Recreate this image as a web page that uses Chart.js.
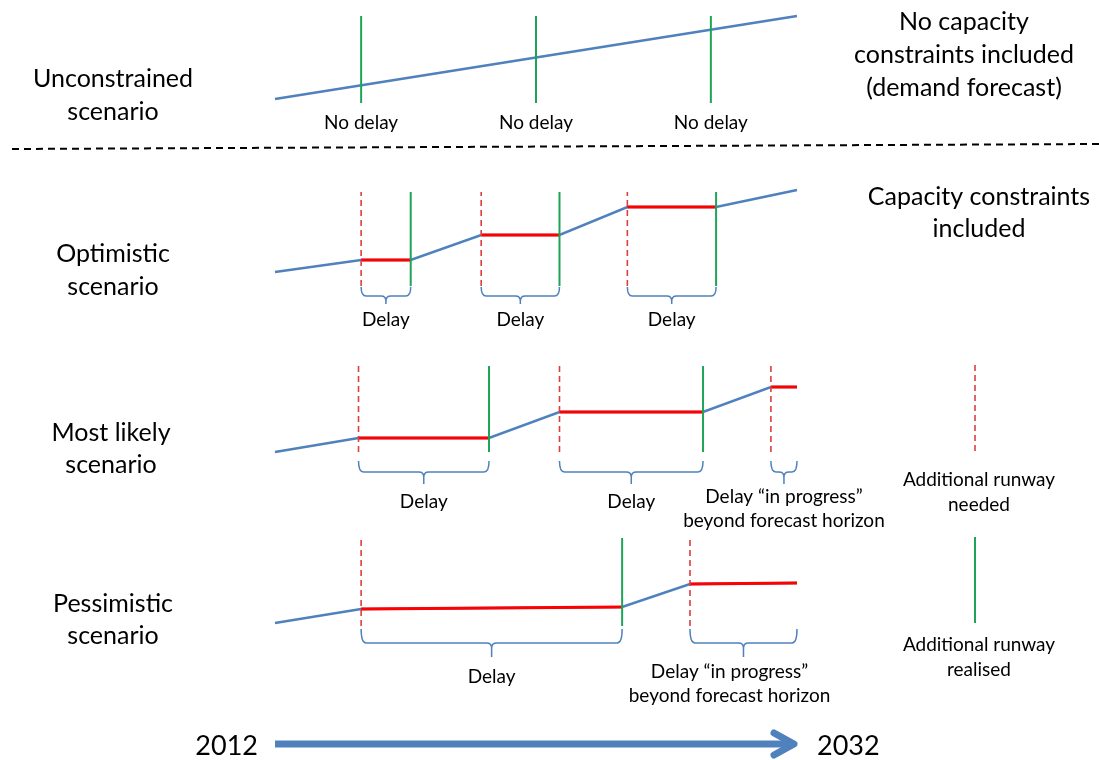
<!DOCTYPE html>
<html>
<head>
<meta charset="utf-8">
<title>Runway capacity scenarios</title>
<script src="https://cdn.jsdelivr.net/npm/chart.js@4.4.1/dist/chart.umd.min.js"></script>
<style>
    html, body { margin: 0; padding: 0; background: #fff; }
    #wrap { width: 1099px; height: 760px; }
</style>
</head>
<body>
<div id="wrap"><canvas id="diagram" width="1099" height="760"></canvas></div>
<script>
// Forecast horizon
const startYear = 2012;
const endYear = 2032;

// Unconstrained scenario: demand forecast, runways arrive exactly when needed
const uncYears = [2012, 2032];
const uncDemand = [100, 183];
const uncRealised = [2015.3, 2022.0, 2028.7];
const uncLabels = ['No delay', 'No delay', 'No delay'];

// Optimistic scenario
const optYears = [2012, 2015.3, 2017.2, 2019.9, 2022.9, 2025.5, 2028.9, 2032];
const optDemand = [100, 112, 112, 137, 137, 165, 165, 182];
const optNeeded = [2015.3, 2019.9, 2025.5];
const optRealised = [2017.2, 2022.9, 2028.9];
const optLabels = ['Delay', 'Delay', 'Delay'];

// Most likely scenario
const mostYears = [2012, 2015.2, 2020.2, 2022.9, 2028.4, 2031.0, 2032];
const mostDemand = [100, 114, 114, 140, 140, 165, 165];
const mostNeeded = [2015.2, 2022.9, 2031.0];
const mostRealised = [2020.2, 2028.4];
const mostLabels = ['Delay', 'Delay', 'Delay \u201cin progress\u201d\nbeyond forecast horizon'];

// Pessimistic scenario
const pesYears = [2012, 2015.3, 2025.3, 2027.9, 2032];
const pesDemand = [100, 114, 116, 139, 140];
const pesNeeded = [2015.3, 2027.9];
const pesRealised = [2025.3];
const pesLabels = ['Delay', 'Delay \u201cin progress\u201d\nbeyond forecast horizon'];

// ---- layout ----
const W = 1099, H = 760;
const AXIS_LEFT = 275, AXIS_RIGHT = 797;
const pxPerYear = (AXIS_RIGHT - AXIS_LEFT) / (endYear - startYear);
const FONT = 'Lato, "Open Sans", sans-serif';
const BLUE = '#4f81bd', RED = '#ff0000', RED_DASH = '#d9403f', GREEN = '#1fa457';

// base = pixel row of demand 100; mark = extent of the runway lines (demand units)
const panels = [
    { id: 'yUnc', base: 99, years: uncYears, demand: uncDemand, needed: [], realised: uncRealised,
      mark: [96, 183], labels: uncLabels, labelY: 123 },
    { id: 'yOpt', base: 272, years: optYears, demand: optDemand, needed: optNeeded, realised: optRealised,
      mark: [86, 180], labels: optLabels,
      brace: { top: 287, main: 296, tip: 304, label: 320, label2: 320, shift2: 0 } },
    { id: 'yMost', base: 452, years: mostYears, demand: mostDemand, needed: mostNeeded, realised: mostRealised,
      mark: [100, 186], labels: mostLabels,
      brace: { top: 461, main: 472, tip: 484, label: 502, label2: 497, shift2: 0 } },
    { id: 'yPes', base: 623, years: pesYears, demand: pesDemand, needed: pesNeeded, realised: pesRealised,
      mark: [97, 185], labels: pesLabels,
      brace: { top: 629, main: 643, tip: 657, label: 677, label2: 672, shift2: -14 } }
];

function pathPoints(years, demand) {
    return years.map((yr, i) => ({ x: yr, y: demand[i] }));
}

// flat (capacity constrained) stretches between "needed" and "realised"
function constrainedPoints(years, demand, needed, realised) {
    const out = [];
    needed.forEach((s, i) => {
        const e = realised[i] !== undefined ? realised[i] : endYear;
        years.forEach((yr, j) => {
            if (yr >= s - 1e-6 && yr <= e + 1e-6) out.push({ x: yr, y: demand[j] });
        });
        out.push({ x: e, y: null });
    });
    return out;
}

function markPoints(list, range) {
    const out = [];
    list.forEach(yr => {
        out.push({ x: yr, y: range[0] }, { x: yr, y: range[1] }, { x: yr, y: null });
    });
    return out;
}

const datasets = [];
const scales = {
    x: {
        type: 'linear',
        display: false,
        min: startYear - AXIS_LEFT / pxPerYear,
        max: endYear + (W - AXIS_RIGHT) / pxPerYear
    }
};

panels.forEach(p => {
    scales[p.id] = { type: 'linear', display: false, min: p.base + 100 - H, max: p.base + 100 };
    datasets.push({
        yAxisID: p.id, data: markPoints(p.realised, p.mark),
        borderColor: GREEN, borderWidth: 2, showLine: true, pointRadius: 0
    });
    if (p.needed.length) {
        datasets.push({
            yAxisID: p.id, data: markPoints(p.needed, p.mark),
            borderColor: RED_DASH, borderWidth: 1.6, borderDash: [6, 4], showLine: true, pointRadius: 0
        });
        datasets.push({
            yAxisID: p.id, data: constrainedPoints(p.years, p.demand, p.needed, p.realised),
            borderColor: RED, borderWidth: 3, showLine: true, pointRadius: 0
        });
    }
    datasets.push({
        yAxisID: p.id, data: pathPoints(p.years, p.demand),
        borderColor: BLUE, borderWidth: 2.5, showLine: true, pointRadius: 0
    });
});

function drawText(ctx, lines, x, y, size, lineH, align) {
    ctx.font = size + 'px ' + FONT;
    ctx.fillStyle = '#000';
    ctx.textAlign = align || 'center';
    ctx.textBaseline = 'middle';
    lines.forEach((t, i) => ctx.fillText(t, x, y + i * lineH));
}

function drawBrace(ctx, x1, x2, b) {
    const r = 5, cx = (x1 + x2) / 2;
    ctx.beginPath();
    ctx.moveTo(x1, b.top);
    ctx.quadraticCurveTo(x1, b.main, x1 + r, b.main);
    ctx.lineTo(cx - r, b.main);
    ctx.quadraticCurveTo(cx, b.main, cx, b.main + r);
    ctx.lineTo(cx, b.tip);
    ctx.moveTo(cx, b.main + r);
    ctx.quadraticCurveTo(cx, b.main, cx + r, b.main);
    ctx.lineTo(x2 - r, b.main);
    ctx.quadraticCurveTo(x2, b.main, x2, b.top);
    ctx.stroke();
}

const diagramPlugin = {
    id: 'diagram',
    afterDraw(chart) {
        const ctx = chart.ctx;
        const xs = chart.scales.x;
        ctx.save();

        // separator between the unconstrained and constrained scenarios
        ctx.strokeStyle = '#000';
        ctx.lineWidth = 2;
        ctx.setLineDash([7, 5]);
        ctx.beginPath();
        ctx.moveTo(12, 149);
        ctx.lineTo(W, 144);
        ctx.stroke();
        ctx.setLineDash([]);

        // scenario names
        drawText(ctx, ['Unconstrained', 'scenario'], 113, 79, 25, 33);
        drawText(ctx, ['Optimistic', 'scenario'], 113, 254, 25, 33);
        drawText(ctx, ['Most likely', 'scenario'], 111, 433, 25, 32);
        drawText(ctx, ['Pessimistic', 'scenario'], 113, 604, 25, 32);

        // notes on the right
        drawText(ctx, ['No capacity', 'constraints included', '(demand forecast)'], 964, 22, 25, 33);
        drawText(ctx, ['Capacity constraints', 'included'], 979, 197, 25, 32);

        // "No delay" under the unconstrained runways
        const unc = panels[0];
        unc.realised.forEach((yr, i) => {
            drawText(ctx, [unc.labels[i]], xs.getPixelForValue(yr), unc.labelY, 19, 24);
        });

        // braces and delay labels
        panels.forEach(p => {
            if (!p.brace) return;
            p.needed.forEach((s, i) => {
                const e = p.realised[i] !== undefined ? p.realised[i] : endYear;
                const x1 = xs.getPixelForValue(s), x2 = xs.getPixelForValue(e);
                ctx.strokeStyle = BLUE;
                ctx.lineWidth = 1.5;
                drawBrace(ctx, x1, x2, p.brace);
                const lines = p.labels[i].split('\n');
                if (lines.length > 1) {
                    drawText(ctx, lines, (x1 + x2) / 2 + p.brace.shift2, p.brace.label2, 19, 24);
                } else {
                    drawText(ctx, lines, (x1 + x2) / 2, p.brace.label, 19, 24);
                }
            });
        });

        // legend
        ctx.strokeStyle = RED_DASH;
        ctx.lineWidth = 1.6;
        ctx.setLineDash([6, 4]);
        ctx.beginPath();
        ctx.moveTo(975, 365);
        ctx.lineTo(975, 452);
        ctx.stroke();
        ctx.setLineDash([]);
        drawText(ctx, ['Additional runway', 'needed'], 979, 480, 19, 25);
        ctx.strokeStyle = GREEN;
        ctx.lineWidth = 2;
        ctx.beginPath();
        ctx.moveTo(975, 537);
        ctx.lineTo(975, 623);
        ctx.stroke();
        drawText(ctx, ['Additional runway', 'realised'], 979, 645, 19, 25);

        // time arrow 2012 -> 2032
        const a1 = xs.getPixelForValue(startYear), a2 = xs.getPixelForValue(endYear);
        const ay = 744;
        ctx.strokeStyle = BLUE;
        ctx.lineWidth = 7;
        ctx.beginPath();
        ctx.moveTo(a1, ay);
        ctx.lineTo(a2 - 6, ay);
        ctx.stroke();
        ctx.lineJoin = 'round';
        ctx.lineCap = 'round';
        ctx.beginPath();
        ctx.moveTo(a2 - 23, ay - 11);
        ctx.lineTo(a2 - 3, ay);
        ctx.lineTo(a2 - 23, ay + 11);
        ctx.stroke();
        drawText(ctx, [String(startYear)], a1 - 17, ay + 2, 27, 30, 'right');
        drawText(ctx, [String(endYear)], a2 + 20, ay + 2, 27, 30, 'left');

        ctx.restore();
    }
};

new Chart(document.getElementById('diagram'), {
    type: 'scatter',
    data: { datasets: datasets },
    options: {
        responsive: false,
        animation: false,
        events: [],
        layout: { padding: 0 },
        plugins: {
            legend: { display: false },
            tooltip: { enabled: false }
        },
        scales: scales
    },
    plugins: [diagramPlugin]
});
</script>
</body>
</html>
